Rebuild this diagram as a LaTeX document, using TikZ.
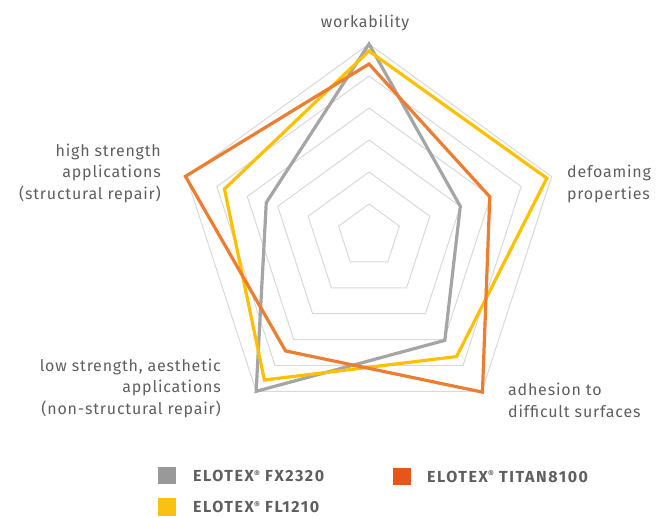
\documentclass[tikz,border=0pt]{standalone}
\usepackage{fontspec}
\setmainfont{Fira Sans}
\newfontfamily\axisfont[LetterSpace=5]{Fira Sans}
\newfontfamily\legfont[LetterSpace=10]{Fira Sans}
\definecolor{gridc}{HTML}{D9D9D9}
\definecolor{txtc}{HTML}{5F5F5F}
\definecolor{serGray}{HTML}{A5A5A5}
\definecolor{serYellow}{HTML}{FFC000}
\definecolor{serOrange}{HTML}{ED7D31}
\definecolor{legGray}{HTML}{999999}
\definecolor{legYellow}{HTML}{FCC010}
\definecolor{legOrange}{HTML}{E5551C}
\newcommand{\regmark}{{\fontsize{9}{9}\selectfont\raisebox{4.5pt}{®}}}
\begin{document}
\begin{tikzpicture}[x=1pt,y=-1pt,
  gridline/.style={draw=gridc,line width=1pt,line join=miter},
  series/.style={line width=3.2pt,line join=miter,miter limit=10},
  axislabel/.style={inner sep=0pt,text=txtc,font=\axisfont\fontsize{16}{21.5}\selectfont},
  legbox/.style={minimum width=18pt,minimum height=17pt,inner sep=0pt},
  legtext/.style={inner sep=0pt,anchor=west,text=txtc,font=\legfont\fontsize{16}{18}\selectfont\bfseries}]
\useasboundingbox (0,0) rectangle (659,518);
\begin{scope}[shift={(369,236)}]
  \foreach \k in {1,...,6}{
    \draw[gridline] (-90:32*\k) -- (-18:32*\k) -- (54:32*\k) -- (126:32*\k) -- (198:32*\k) -- cycle;
  }
  \draw[series,draw=serGray] (-90:192) -- (-18:96) -- (54:129) -- (126:192) -- (198:108) -- cycle;
  \draw[series,draw=serYellow] (-90:185) -- (-18:187) -- (54:149) -- (126:178) -- (198:152) -- cycle;
  \draw[series,draw=serOrange] (-90:172) -- (-18:127) -- (54:193) -- (126:142) -- (198:193) -- cycle;
\end{scope}
\node[axislabel] (lwork) at (365,23) {workability};
\node[axislabel,anchor=west,align=left] (ldefoam) at (567,184) {defoaming\\properties};
\node[axislabel,anchor=west,align=left] (ladh) at (508,400.5) {adhesion to\\difficult surfaces};
\node[axislabel,anchor=east,align=right] (lhigh) at (161,173) {high strength\\applications\\(structural repair)};
\node[axislabel,anchor=east,align=right] (llow) at (221,388) {low strength, aesthetic\\applications\\(non-structural repair)};
\node[legbox,fill=legGray] (sqfx) at (167,476) {};
\node[legbox,fill=legYellow] (sqfl) at (167,507) {};
\node[legbox,fill=legOrange] (sqti) at (401.5,476.5) {};
\node[legtext] (tfx) at (193,476) {ELOTEX\regmark{} FX2320};
\node[legtext] (tfl) at (193,507) {ELOTEX\regmark{} FL1210};
\node[legtext] (tti) at (427,476.5) {ELOTEX\regmark{} TITAN8100};
\end{tikzpicture}
\end{document}
